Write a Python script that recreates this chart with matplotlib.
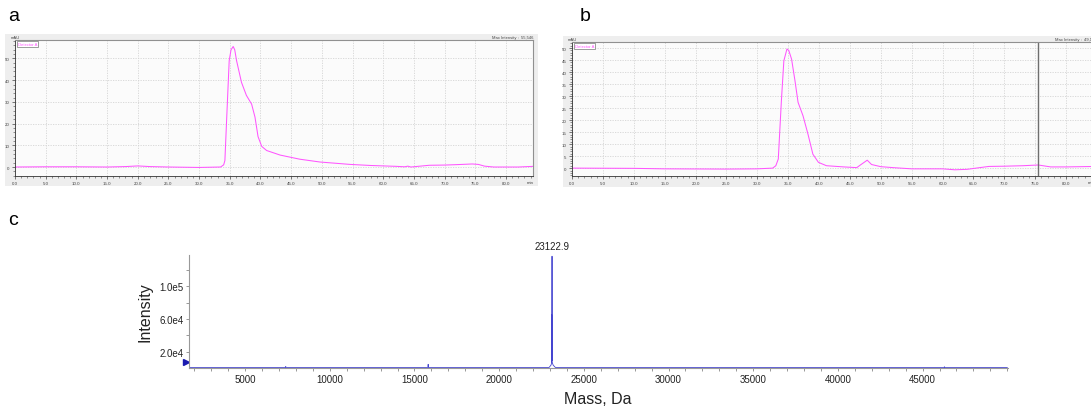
import matplotlib
matplotlib.use("Agg")
import matplotlib.pyplot as plt
from matplotlib.patches import Rectangle
from matplotlib.ticker import MultipleLocator, FixedLocator

plt.rcParams['font.family'] = ['Liberation Sans', 'DejaVu Sans']

# chromatogram a (time in min, signal in mAU)
rt_a = [0, 5, 10, 15, 18, 20, 22, 25, 30, 33.5, 34.0, 34.2, 34.5, 34.9, 35.2, 35.55,
        35.8, 36.1, 36.9, 37.7, 38.55, 39.1, 39.6, 40.2, 41.0, 43.2, 46.4, 49.7,
        54.6, 58, 62.2, 63.5, 64, 64.5, 66, 67.5, 70, 72, 74.5, 75.5, 76.5, 78, 82, 84.4]
sig_a = [0.0, 0.1, 0.1, 0.0, 0.2, 0.5, 0.2, 0.0, -0.2, 0.0, 1.0, 3.0, 23, 49, 54, 55.5,
         54, 49, 39, 33, 29, 23, 14, 9.5, 7.6, 5.5, 3.6, 2.3,
         1.2, 0.7, 0.3, 0.1, 0.4, 0.0, 0.4, 0.8, 0.9, 1.1, 1.4, 1.2, 0.4, 0.0, 0.0, 0.3]

# chromatogram b
rt_b = [0, 10, 15, 25, 30, 32.5, 33.0, 33.4, 33.9, 34.3, 34.8, 35.1, 35.55, 36.1, 36.6,
        37.4, 38.2, 39.0, 39.9, 41.2, 44, 46.1, 46.8, 47.8, 48.5, 50, 52, 55, 60, 62,
        64, 66, 67.5, 70, 73, 75.5, 77.5, 80, 85]
sig_b = [0, -0.1, -0.3, -0.4, -0.3, 0, 1, 3.8, 28, 44.7, 49.6, 49, 45.4, 36.4, 27.4,
         21.8, 14.2, 5.8, 2.4, 1.0, 0.5, 0.2, 1.5, 3.3, 1.5, 0.6, 0.2, -0.3, -0.3, -0.7,
         -0.5, 0.2, 0.7, 0.8, 1.0, 1.3, 0.5, 0.5, 0.7]
cursor_b = 75.4

max_int_a = "55,546"
max_int_b = "49,120"

# deconvoluted mass spectrum c
mass_c = [1700, 7380, 7400, 7420, 15790, 15810, 15830, 22950, 23060, 23100, 23108,
          23114, 23122.9, 23130, 23190, 23320, 46270, 46290, 46310, 50000]
int_c = [700, 700, 1800, 700, 700, 4500, 700, 700, 3500, 6000, 65000,
         9000, 137000, 7000, 3500, 700, 700, 1500, 700, 700]
peak_mass = 23122.9
peak_int = 137000

W, H = 1091, 410
fig = plt.figure(figsize=(W / 100, H / 100), dpi=100)


def box(x0, y0, x1, y1):
    return [x0 / W, 1 - y1 / H, (x1 - x0) / W, (y1 - y0) / H]


pink = '#ff55ff'


def chrom(ax, rt, sig, xmax, ylim, ystep, maxint):
    ax.set_facecolor('#fbfbfb')
    ax.plot(rt, sig, color=pink, lw=0.75)
    ax.set_xlim(0, xmax)
    ax.xaxis.set_major_locator(FixedLocator(list(range(0, 85, 5))))
    ax.set_xticklabels([f"{v:.1f}" for v in range(0, 85, 5)])
    ax.xaxis.set_minor_locator(MultipleLocator(1))
    ax.yaxis.set_major_locator(MultipleLocator(ystep))
    ax.yaxis.set_minor_locator(MultipleLocator(ystep / 5))
    ax.set_ylim(*ylim)
    ax.grid(True, which='major', color='#d4d4d4', ls=(0, (1.5, 1.5)), lw=0.6)
    ax.tick_params(which='major', length=2.5, width=0.5, labelsize=3.2,
                   colors='#444444', pad=1.5)
    ax.tick_params(which='minor', length=1.2, width=0.4, colors='#444444')
    for s in ['left', 'bottom']:
        ax.spines[s].set_color('#333333')
        ax.spines[s].set_linewidth(0.6)
    for s in ['top', 'right']:
        ax.spines[s].set_color('#909090')
        ax.spines[s].set_linewidth(0.8)
    ax.text(84, -0.035, "min", transform=ax.get_xaxis_transform(), ha='center',
            va='top', fontsize=3.2, color='#444444')
    ax.text(0, 1.01, "mAU", transform=ax.transAxes, ha='center', va='bottom',
            fontsize=3, color='#444444')
    ax.text(0.005, 0.985, "Detector A", transform=ax.transAxes, ha='left', va='top',
            fontsize=3, color=pink,
            bbox=dict(boxstyle='square,pad=0.2', fc='white', ec='#777777', lw=0.5))
    ax.text(1.0, 1.01, "Max Intensity :  " + maxint, transform=ax.transAxes,
            ha='right', va='bottom', fontsize=3, color='#444444')


# grey screenshot panels behind the chromatograms
fig.patches.append(Rectangle((5 / W, 1 - 187 / H), 533 / W, 152 / H,
                             transform=fig.transFigure, fc='#eeeeee', ec='none', zorder=-10))
fig.patches.append(Rectangle((563 / W, 1 - 188 / H), 540 / W, 151 / H,
                             transform=fig.transFigure, fc='#eeeeee', ec='none', zorder=-10))

ax_a = fig.add_axes(box(15, 41, 533, 176.7))
chrom(ax_a, rt_a, sig_a, 84.4, (-4, 58.5), 10, max_int_a)

ax_b = fig.add_axes(box(572, 43.3, 1097, 176.8))
chrom(ax_b, rt_b, sig_b, 85, (-3.2, 52.4), 5, max_int_b)
ax_b.axvline(cursor_b, color='#6e6e6e', lw=1)

# mass spectrum
blue = '#4545d0'
ax_c = fig.add_axes(box(189, 256, 1008.3, 369))
ax_c.plot(mass_c, int_c, color=blue, lw=0.6)
ax_c.set_xlim(1690, 50060)
ax_c.set_ylim(0, 138500)
ax_c.xaxis.set_major_locator(FixedLocator(list(range(5000, 50000, 5000))))
ax_c.xaxis.set_minor_locator(MultipleLocator(1000))
ax_c.yaxis.set_major_locator(FixedLocator([20000, 60000, 100000]))
ax_c.yaxis.set_minor_locator(FixedLocator([40000, 80000, 120000]))
ax_c.set_yticklabels(["2.0e4", "6.0e4", "1.0e5"])
ax_c.tick_params(which='both', length=2.5, width=0.6, colors='#888888',
                 labelcolor='#222222', labelsize=7, pad=1.5)
for s in ['top', 'right']:
    ax_c.spines[s].set_visible(False)
for s in ['left', 'bottom']:
    ax_c.spines[s].set_color('#999999')
    ax_c.spines[s].set_linewidth(0.8)
ax_c.plot([1520], [7000], marker='>', ms=5, color='#1a1ab0', clip_on=False)
ax_c.annotate(f"{peak_mass}", xy=(peak_mass, peak_int), xytext=(0, 3.5),
              textcoords='offset points', ha='center', va='bottom', fontsize=7,
              color='#222222', annotation_clip=False)

fig.text(145 / W, 1 - 312 / H, "Intensity", rotation=90, ha='center', va='center',
         fontsize=11.5, color='#222222')
fig.text(598 / W, 1 - 400 / H, "Mass, Da", ha='center', va='center',
         fontsize=11.5, color='#222222')

fig.text(8 / W, 1 - 21 / H, "a", fontsize=14, va='baseline')
fig.text(580 / W, 1 - 21 / H, "b", fontsize=14, va='baseline')
fig.text(8 / W, 1 - 225 / H, "c", fontsize=14, va='baseline')

fig.savefig("out.png", dpi=100)
